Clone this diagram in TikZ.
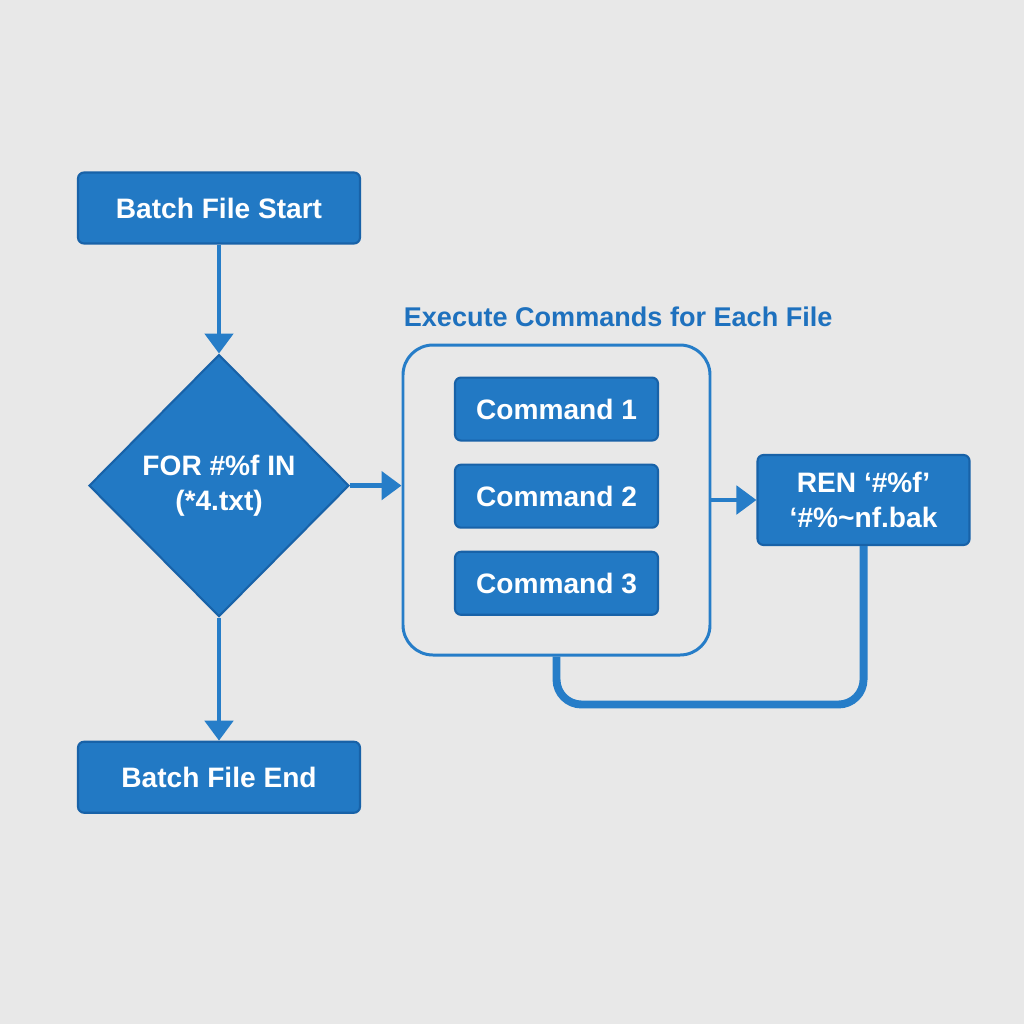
\documentclass[tikz,border=0pt]{standalone}
\usepackage{fontspec}
\setmainfont{Liberation Sans}
\usepackage{tikz}
\usetikzlibrary{positioning, shapes.geometric, arrows.meta}

\definecolor{bg}{RGB}{232,232,232}
\definecolor{boxblue}{RGB}{34,121,196}
\definecolor{edgeblue}{RGB}{24,98,168}
\definecolor{lineblue}{RGB}{38,125,200}
\definecolor{titleblue}{RGB}{30,113,190}

\begin{document}
\begin{tikzpicture}[font=\fontsize{16}{20}\selectfont\bfseries,
	blk/.style={rectangle, rounded corners=0.12cm, fill=boxblue, draw=edgeblue, line width=1.2pt, text=white, align=center},
	dec/.style={diamond, fill=boxblue, draw=edgeblue, line width=1.2pt, text=white, align=center, inner sep=0pt, minimum width=5.2cm, minimum height=5.24cm},
	grp/.style={rectangle, rounded corners=0.6cm, draw=lineblue, line width=1.7pt, minimum width=6.14cm, minimum height=6.2cm},
	arr/.style={-{Triangle[length=0.4cm, width=0.56cm]}, color=lineblue, line width=2.8pt}]
	\fill[bg] (0,0) rectangle (20.48,-20.48);
	\useasboundingbox (0,0) rectangle (20.48,-20.48);

	\node[blk, minimum width=5.64cm, minimum height=1.42cm] (start) at (4.38,-4.16) {Batch File Start};
	\node[dec, below=2.18cm of start] (for) {FOR \#\%f IN\\(*4.txt)};
	\node[blk, minimum width=5.64cm, minimum height=1.42cm, below=2.46cm of for] (end) {Batch File End};

	\node[grp] (group) at (11.13,-10.0) {};
	\node[text=titleblue, inner sep=0pt, font=\fontsize{15.4}{18}\selectfont\bfseries, above right=0.32cm and 0.04cm of group.north west] (title) {Execute Commands for Each File};
	\node[blk, minimum width=4.06cm, minimum height=1.26cm, below=0.66cm of group.north] (cmd1) {Command 1};
	\node[blk, minimum width=4.06cm, minimum height=1.26cm, below=0.44cm of cmd1] (cmd2) {Command 2};
	\node[blk, minimum width=4.06cm, minimum height=1.26cm, below=0.44cm of cmd2] (cmd3) {Command 3};

	\node[blk, minimum width=4.24cm, minimum height=1.8cm, right=0.9cm of group] (ren) {REN ‘\#\%f’\\‘\#\%\textasciitilde nf.bak};

	\draw[arr] (start) -- (for);
	\draw[arr] (for) -- (end);
	\draw[arr] (for.east) -- (for.east -| group.west);
	\draw[arr] (ren.west -| group.east) -- (ren.west);
	\draw[lineblue, line width=4.5pt, rounded corners=0.5cm] (group.south) -- ++(0,-0.96) -| (ren.south);
\end{tikzpicture}
\end{document}
